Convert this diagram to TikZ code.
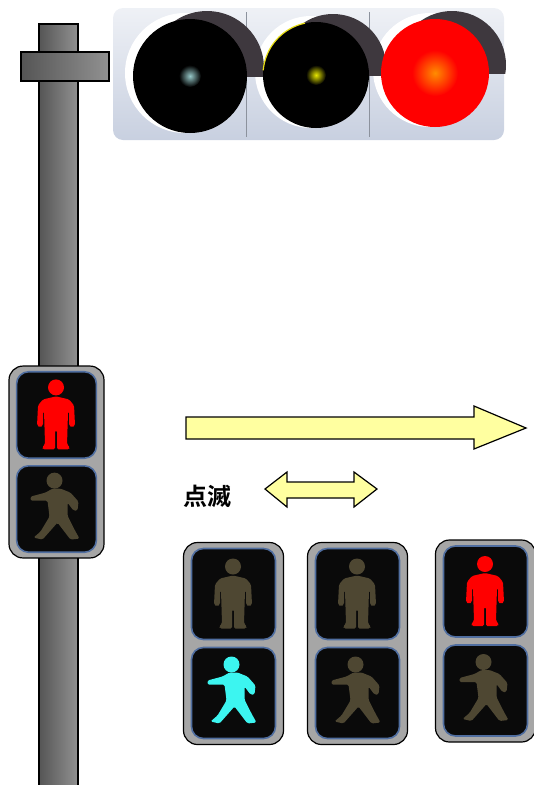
\documentclass[tikz,border=0pt]{standalone}
\usepackage{fontspec}
\usepackage{tikz}
\newfontfamily\cjk{Noto Sans CJK JP}[BoldFont={Noto Sans CJK JP Bold}]

\definecolor{lampred}{RGB}{255,0,0}
\definecolor{mandim}{RGB}{78,71,50}
\definecolor{mancyan}{RGB}{60,245,240}
\definecolor{boxgray}{RGB}{166,166,166}
\definecolor{lensrim}{RGB}{80,110,160}
\definecolor{lensblack}{RGB}{10,10,10}
\definecolor{arrowyellow}{RGB}{255,255,160}
\definecolor{housing}{RGB}{200,208,224}
\definecolor{visor}{RGB}{62,56,62}

\tikzset{
  polebar/.style={draw=black, line width=1.5pt, left color={rgb,255:red,85;green,85;blue,85}, right color={rgb,255:red,145;green,145;blue,145}},
  blockarrow/.style={draw=black, line width=1.2pt, fill=arrowyellow, line join=miter},
  sigcase/.style={draw=black, line width=1.2pt, fill=boxgray, rounded corners=14pt},
  siglens/.style={draw=lensrim, line width=1.6pt, fill=lensblack, rounded corners=12pt},
  pics/standman/.style={code={
    \fill[#1] (0,-29) circle (8);
    \fill[#1, rounded corners=1.5pt] (0,-20) -- (-13,-17) -- (-18,-11) -- (-19,9) -- (-16,11)
      -- (-13,9) -- (-13,-5) -- (-12,-5) -- (-11,28) -- (-14,31) -- (-13,33) -- (-1,33) -- (-1,14)
      -- (1,14) -- (1,33) -- (13,33) -- (14,31) -- (11,28) -- (12,-5) -- (13,-5) -- (13,9) -- (16,11)
      -- (19,9) -- (18,-11) -- (13,-17) -- cycle;
  }},
  pics/walkman/.style={code={
    \fill[#1] (-2,-27) circle (8);
    \fill[#1, rounded corners=1.5pt] (-4,-19) -- (-11,-15) -- (-26,-11) -- (-26,-7) -- (-9,-7)
      -- (-7,9) -- (-16,24) -- (-23,30) -- (-14,32) -- (1,15) -- (14,32) -- (23,31)
      -- (18,22) -- (11,8) -- (11,-5) -- (17,3) -- (21,3) -- (22,-6) -- (14,-15)
      -- (4,-19) -- cycle;
  }},
  pics/pedsignal/.style 2 args={code={
    \draw[sigcase] (-50,-101) rectangle (50,101);
    \draw[siglens] (-42,-95) rectangle (42,-4);
    \draw[siglens] (-42,4) rectangle (42,95);
    \pic at (-0.5,-48) {standman=#1};
    \pic at (0,48) {walkman=#2};
  }}
}

\begin{document}
\begin{tikzpicture}[x=1pt, y=-1pt]
  \useasboundingbox (0,0) rectangle (534,785);

  % pole
  \draw[polebar] (39,24) rectangle (78,790);
  \draw[polebar] (21,52) rectangle (109,81);

  % signal head
  \shade[top color=white!70!housing, bottom color=housing, rounded corners=10pt]
    (113,8) rectangle (504,140);
  \draw[housing!70!black, line width=0.6pt] (246,12) -- (246,137) (369,12) -- (369,137);
  \foreach \x/\y/\r in {190/76/57, 316/75/53, 435/73/54}
    \fill[white] (\x-5,\y-3) circle (\r+3);
  \foreach \x/\y/\r in {190/76/57, 316/75/53, 435/73/54} {
    \begin{scope}
      \clip (\x-70,0) rectangle (\x+80,\y);
      \fill[visor] (\x+17,\y-8) circle (\r);
    \end{scope}
  }
  \coordinate (lampG) at (190,76);
  \coordinate (lampY) at (316,75);
  \coordinate (lampR) at (435,73);
  \fill[black] (lampG) circle (57);
  \fill[black] (lampY) circle (53);
  \fill[lampred] (lampR) circle (54);
  \draw[yellow!90!black, line width=1.2pt] (lampY) ++(185:53) arc[start angle=185, end angle=258, radius=53];
  \shade[inner color={rgb,255:red,150;green,200;blue,200}, outer color=black] (lampG) circle (11);
  \shade[inner color=yellow!90!black, outer color=black] (lampY) circle (10);
  \shade[inner color=orange!90!yellow, outer color=lampred] (lampR) circle (23);

  % pedestrian signal on the pole
  \pic[scale=0.95] (polesig) at (56.5,462) {pedsignal={lampred}{mandim}};

  % arrows
  \draw[blockarrow] (186,417) -- (474,417) -- (474,406) -- (526,428) -- (474,449)
    -- (474,439) -- (186,439) -- cycle;
  \draw[blockarrow] (265,489) -- (287,472) -- (287,482) -- (354,482) -- (354,472)
    -- (377,489) -- (354,507) -- (354,498) -- (287,498) -- (287,507) -- cycle;
  \node[font=\cjk\bfseries\fontsize{24}{28}\selectfont, anchor=west, inner sep=0pt] (blink) at (183,496) {点滅};

  % pedestrian signals, one per phase
  \pic (sigA) at (233.5,643.5) {pedsignal={mandim}{mancyan}};
  \pic (sigB) at (357.5,643.5) {pedsignal={mandim}{mandim}};
  \pic (sigC) at (485.5,641) {pedsignal={lampred}{mandim}};

\end{tikzpicture}
\end{document}
